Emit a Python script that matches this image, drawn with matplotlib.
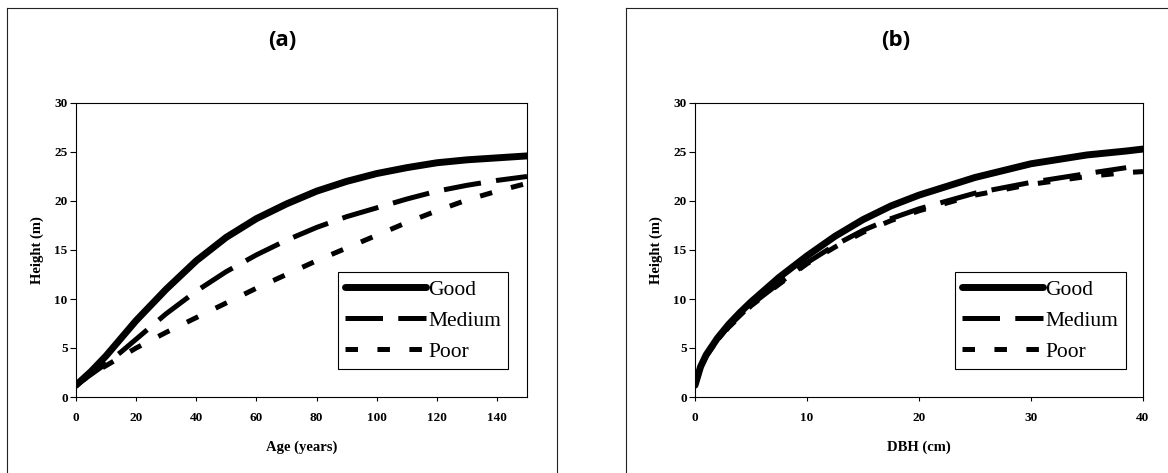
import matplotlib.pyplot as plt
from matplotlib.lines import Line2D

# Site class height curves: (a) height over age, (b) height over DBH
age = [0, 5, 10, 15, 20, 30, 40, 50, 60, 70, 80, 90, 100, 110, 120, 130, 140, 150]
age_good = [1.2, 2.6, 4.2, 6.0, 7.8, 11.0, 13.9, 16.3, 18.2, 19.7, 21.0, 22.0, 22.8, 23.4, 23.9, 24.2, 24.4, 24.6]
age_medium = [1.2, 2.3, 3.4, 4.6, 5.9, 8.5, 10.8, 12.8, 14.5, 16.0, 17.3, 18.4, 19.3, 20.2, 21.0, 21.6, 22.1, 22.5]
age_poor = [1.2, 2.3, 3.2, 4.1, 5.0, 6.6, 8.1, 9.6, 11.1, 12.5, 13.9, 15.2, 16.5, 17.8, 19.0, 20.1, 21.0, 21.8]

dbh = [0, 0.5, 1, 2, 3, 4, 5, 7.5, 10, 12.5, 15, 17.5, 20, 25, 30, 35, 38.5, 40]
dbh_good = [1.2, 3.1, 4.3, 6.0, 7.4, 8.6, 9.7, 12.2, 14.4, 16.4, 18.1, 19.5, 20.6, 22.4, 23.8, 24.7, 25.1, 25.3]
dbh_medium = [1.2, 3.0, 4.2, 5.8, 7.2, 8.3, 9.4, 11.6, 13.7, 15.5, 17.0, 18.2, 19.2, 20.8, 21.9, 22.8, 23.4, None]
dbh_poor = [1.2, 3.0, 4.2, 5.8, 7.1, 8.2, 9.3, 11.5, 13.6, 15.3, 16.8, 18.0, 19.0, 20.6, 21.7, 22.5, 22.9, 23.0]

labels = ['Good', 'Medium', 'Poor']

plt.rcParams['lines.scale_dashes'] = False
serif = 'Liberation Serif'

fig = plt.figure(figsize=(11.68, 4.73), dpi=100)
W, H = 1168.0, 473.0


def px_axes(x0, y0, x1, y1):
    return fig.add_axes([x0 / W, 1 - y1 / H, (x1 - x0) / W, (y1 - y0) / H])


ax1 = px_axes(76, 103, 527, 397)
ax2 = px_axes(695, 103, 1143, 397)

styles = [
    dict(color='black', lw=5, solid_capstyle='round', solid_joinstyle='round', linestyle='-'),
    dict(color='black', lw=3.6, dash_capstyle='butt', linestyle=(0, (27, 11))),
    dict(color='black', lw=3.6, dash_capstyle='butt', linestyle=(0, (9, 14))),
]


def draw_panel(ax, x, series, xmax, xticks, xlabel, ylabel_x):
    for y, lab, st in zip(series, labels, styles):
        xs = [a for a, b in zip(x, y) if b is not None]
        ys = [b for b in y if b is not None]
        ax.plot(xs, ys, label=lab, **st)
    ax.set_xlim(0, xmax)
    ax.set_ylim(0, 30)
    ax.set_xticks(xticks)
    ax.set_yticks(range(0, 31, 5))
    ax.tick_params(axis='x', direction='out', length=3, width=0.8, pad=8)
    ax.tick_params(axis='y', direction='out', length=4, width=0.8, pad=2)
    for t in ax.get_xticklabels() + ax.get_yticklabels():
        t.set_fontfamily(serif)
        t.set_fontweight('bold')
        t.set_fontsize(9.5)
    for sp in ax.spines.values():
        sp.set_linewidth(0.8)
        sp.set_color('black')
    ax.set_xlabel(xlabel, fontfamily=serif, fontweight='bold', fontsize=10.5)
    ax.set_ylabel('Height (m)', fontfamily=serif, fontweight='bold', fontsize=10.5)
    ax.xaxis.set_label_coords(0.5, -0.17)
    ax.xaxis.label.set_va('center')
    ax.yaxis.set_label_coords(ylabel_x, 0.5)
    ax.yaxis.label.set_va('center')
    leg = ax.legend(loc='lower left', bbox_to_anchor=(0.58, 0.095), borderaxespad=0,
                    prop={'family': serif, 'size': 15.5}, handlelength=3.75,
                    handletextpad=0.1, labelspacing=0.5, borderpad=0.35,
                    fancybox=False, framealpha=1, edgecolor='black')
    leg.get_frame().set_linewidth(0.8)


draw_panel(ax1, age, [age_good, age_medium, age_poor], 150, range(0, 141, 20),
           'Age (years)', (37 - 76) / 451)
draw_panel(ax2, dbh, [dbh_good, dbh_medium, dbh_poor], 40, range(0, 41, 10),
           'DBH (cm)', (656 - 695) / 448)

# thin frames around each panel (open at the bottom edge)
frame = dict(color='#222222', lw=0.8, transform=fig.transFigure)
for x0, x1 in [(7, 557), (626, 1168)]:
    fig.add_artist(Line2D([x0 / W, x1 / W], [1 - 8 / H, 1 - 8 / H], **frame))
    fig.add_artist(Line2D([x0 / W, x0 / W], [0, 1 - 8 / H], **frame))
fig.add_artist(Line2D([557 / W, 557 / W], [0, 1 - 8 / H], **frame))

fig.text(282 / W, 1 - 40 / H, '(a)', ha='center', va='center',
         fontfamily='Open Sans', fontweight='bold', fontsize=16)
fig.text(896 / W, 1 - 40 / H, '(b)', ha='center', va='center',
         fontfamily='Open Sans', fontweight='bold', fontsize=16)

fig.savefig('out.png', dpi=100)
